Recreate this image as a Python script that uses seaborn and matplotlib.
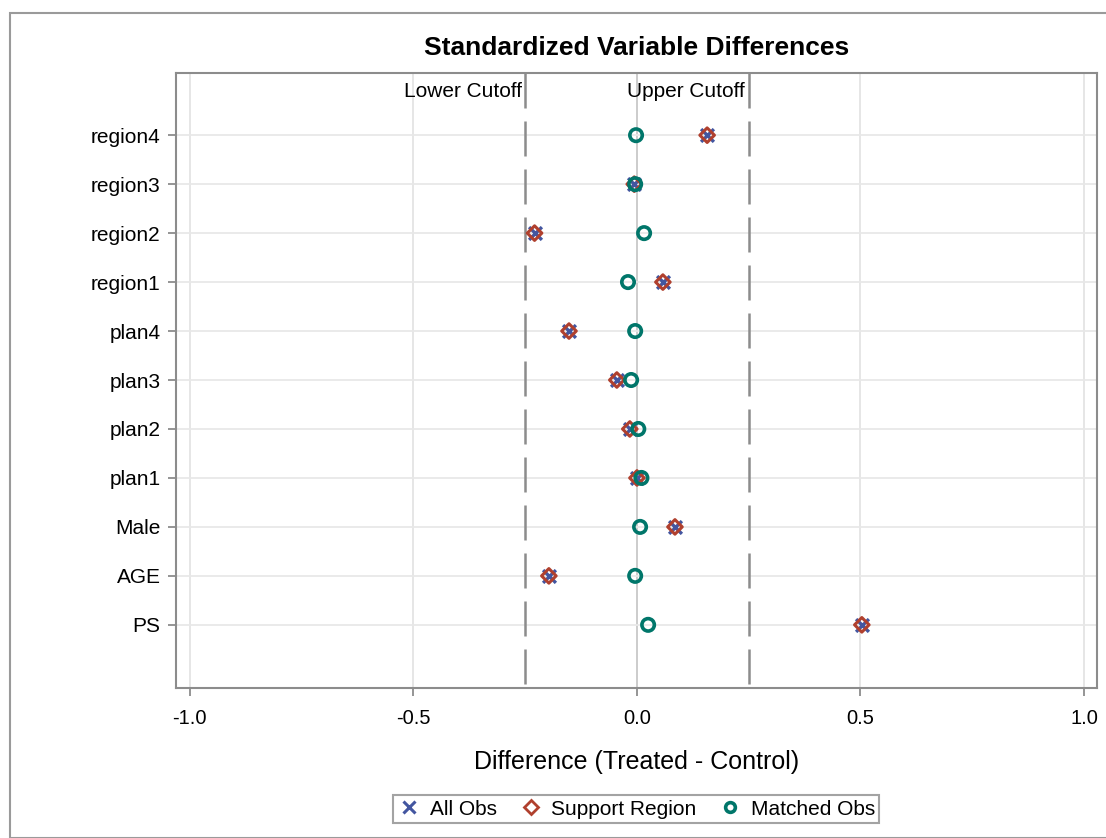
import numpy as np
import pandas as pd
import seaborn as sns
import matplotlib.pyplot as plt
from matplotlib.lines import Line2D
from matplotlib.patches import Rectangle

# Variables, top row first
variables = ['region4', 'region3', 'region2', 'region1', 'plan4', 'plan3',
             'plan2', 'plan1', 'Male', 'AGE', 'PS']
all_obs = [0.157, -0.006, -0.229, 0.058, -0.152, -0.045, -0.016, 0.000, 0.085, -0.197, 0.503]
support_region = [0.157, -0.006, -0.229, 0.058, -0.152, -0.045, -0.016, 0.000, 0.085, -0.197, 0.503]
matched_obs = [-0.002, -0.004, 0.016, -0.020, -0.004, -0.013, 0.003, 0.010, 0.007, -0.004, 0.025]
cutoffs = [-0.25, 0.25]

blue = '#4356A0'
red = '#B0402E'
teal = '#00766A'
grey = '#8C8C8C'

sns.set_theme(style='white')
plt.rcParams['font.family'] = ['Liberation Sans', 'DejaVu Sans']
plt.rcParams['text.color'] = 'black'
plt.rcParams['xtick.color'] = 'black'
plt.rcParams['ytick.color'] = 'black'
plt.rcParams['axes.labelcolor'] = 'black'

df = pd.DataFrame({'variable': variables, 'all': all_obs,
                   'support': support_region, 'matched': matched_obs})
df['pos'] = np.arange(len(variables))[::-1]

fig = plt.figure(figsize=(11.06, 8.38), dpi=100)
fig.patches.append(Rectangle((10 / 1106, 0), 1.2, 1 - 13 / 838, transform=fig.transFigure,
                             fill=False, edgecolor='#9A9A9A', linewidth=1.5))
ax = fig.add_axes([176 / 1106, 1 - 688 / 838, (1097 - 176) / 1106, (688 - 73) / 838])

for v in [-1.0, -0.5, 0.0, 0.5, 1.0]:
    ax.axvline(v, color='#E4E4E4' if v != 0 else '#C8C8C8', linewidth=1.3, zorder=0)
for p in df['pos']:
    ax.axhline(p, color='#E8E8E8', linewidth=1.3, zorder=0)
for c in cutoffs:
    # drawn from the top down so the dash pattern starts at the top
    ax.axvline(c, ymin=1, ymax=0, color='#8C8C8C', linewidth=1.8, dashes=(14, 5.2), zorder=1)

sns.scatterplot(data=df, x='all', y='pos', marker='x', s=85, color=blue,
                edgecolor=blue, linewidth=2.4, ax=ax, zorder=3)
sns.scatterplot(data=df, x='support', y='pos', marker='D', s=55, color=red,
                facecolor='none', edgecolor=red, linewidth=2.2, ax=ax, zorder=4)
sns.scatterplot(data=df, x='matched', y='pos', marker='o', s=80, color=teal,
                facecolor='none', edgecolor=teal, linewidth=2.6, ax=ax, zorder=5)

ax.set_xlim(-1.031, 1.029)
ax.set_ylim(-1.29, 11.27)
ax.set_xticks([-1.0, -0.5, 0.0, 0.5, 1.0])
ax.set_xticklabels(['-1.0', '-0.5', '0.0', '0.5', '1.0'], fontsize=14.5)
ax.set_yticks(df['pos'])
ax.set_yticklabels(df['variable'], fontsize=15)
ax.tick_params(axis='both', which='both', length=6, width=1.3, color=grey,
               left=True, bottom=True)
ax.tick_params(axis='x', pad=9)
ax.tick_params(axis='y', pad=5)
for s in ax.spines.values():
    s.set_color('#8C8C8C')
    s.set_linewidth(1.5)

ax.set_xlabel('Difference (Treated - Control)', fontsize=18, labelpad=16)
ax.set_ylabel('')
ax.set_title('Standardized Variable Differences', fontsize=19, fontweight='bold', pad=13)

ytxt = 10.9
ax.text(cutoffs[0] - 0.008, ytxt, 'Lower Cutoff', ha='right', va='center', fontsize=15)
ax.text(cutoffs[1] - 0.008, ytxt, 'Upper Cutoff', ha='right', va='center', fontsize=15)

handles = [
    Line2D([], [], marker='x', linestyle='none', color=blue, markersize=8, markeredgewidth=2.2),
    Line2D([], [], marker='D', linestyle='none', color=red, markerfacecolor='none',
           markersize=7, markeredgewidth=2),
    Line2D([], [], marker='o', linestyle='none', color=teal, markerfacecolor='none',
           markersize=7, markeredgewidth=2.6),
]
leg = fig.legend(handles, ['All Obs', 'Support Region', 'Matched Obs'], ncol=3,
                 loc='center', bbox_to_anchor=(636 / 1106, 1 - 809 / 838), fontsize=15,
                 frameon=True, fancybox=False, handletextpad=0.4, columnspacing=1.0,
                 borderpad=0.2, handlelength=1.2)
leg.get_frame().set_edgecolor('#8C8C8C')
leg.get_frame().set_linewidth(1.5)

fig.savefig('out.png', dpi=100)
